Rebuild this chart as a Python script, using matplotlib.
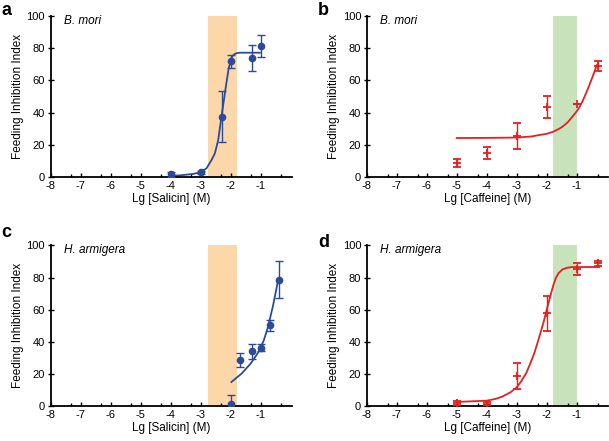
import numpy as np
import matplotlib
matplotlib.use("Agg")
import matplotlib.pyplot as plt

plt.rcParams['font.family'] = ['Liberation Sans', 'DejaVu Sans']
plt.rcParams['axes.unicode_minus'] = False

# --- dati ---
# pannello a: B. mori, salicina
a_x = [-4.0, -3.0, -2.3, -2.0, -1.3, -1.0]
a_y = [1.7, 2.9, 37.5, 72.0, 74.0, 81.3]
a_err = [1.5, 0.8, 16.0, 4.0, 8.0, 6.7]
a_fit_x = [-4.02, -3.69, -3.25, -3.0, -2.8, -2.63, -2.52, -2.41, -2.3, -2.22,
           -2.13, -2.06, -1.97, -1.93, -1.86, -1.78, -1.69, -1.02]
a_fit_y = [0.8, 1.0, 1.9, 2.9, 5.4, 10.6, 14.7, 23.0, 37.5, 47.8,
           59.2, 67.5, 73.7, 75.2, 76.4, 77.0, 77.2, 77.2]

# pannello b: B. mori, caffeina
b_x = [-5.0, -4.0, -3.0, -2.0, -1.0, -0.3]
b_y = [8.9, 15.1, 25.5, 43.5, 45.3, 69.1]
b_err = [2.5, 3.7, 8.0, 6.6, 0.0, 3.0]
b_fit_x = [-5.0, -4.0, -3.0, -2.5, -2.24, -2.0, -1.8, -1.6, -1.47, -1.3, -1.14,
           -1.0, -0.91, -0.8, -0.69, -0.58, -0.47, -0.33]
b_fit_y = [24.2, 24.3, 24.5, 25.2, 26.1, 26.8, 28.0, 29.8, 31.3, 34.0, 37.5,
           40.8, 43.3, 47.3, 52.0, 57.0, 62.3, 69.5]

# pannello c: H. armigera, salicina
c_x = [-2.0, -1.7, -1.3, -1.0, -0.7, -0.4]
c_y = [1.7, 28.6, 34.2, 36.4, 50.3, 78.7]
c_err = [5.5, 4.5, 4.7, 2.2, 3.5, 11.3]
c_fit_x = [-1.97, -1.63, -1.33, -1.05, -0.89, -0.75, -0.58, -0.42]
c_fit_y = [15.1, 20.3, 26.5, 34.2, 41.0, 49.3, 62.7, 77.6]

# pannello d: H. armigera, caffeina
d_x = [-5.0, -4.0, -3.0, -2.0, -1.0, -0.3]
d_y = [2.1, 1.7, 18.7, 57.7, 85.1, 88.8]
d_err = [1.0, 1.0, 8.0, 11.0, 3.7, 1.7]
d_fit_x = [-5.0, -4.5, -4.0, -3.7, -3.46, -3.2, -3.0, -2.84, -2.68, -2.55,
           -2.41, -2.3, -2.19, -2.1, -2.02, -1.93, -1.85, -1.77, -1.69, -1.6,
           -1.47, -1.3, -1.14, -0.25]
d_fit_y = [2.7, 3.1, 3.5, 4.6, 6.2, 8.8, 11.8, 15.8, 20.7, 26.5,
           33.2, 39.8, 46.7, 52.5, 58.5, 64.8, 70.5, 75.8, 79.9, 82.8,
           85.1, 86.1, 86.5, 86.5]

salicin_band = (-2.76, -1.79)
caffeine_band = (-1.79, -1.0)

BLUE = '#2b4a9b'
RED = '#e3211f'
ORANGE = '#fcd7a9'
GREEN = '#c8e2bb'

fig = plt.figure(figsize=(6.09, 4.41), dpi=100)

W, H = 609.0, 441.0
ax_w = 241.5 / W
ax_h = 161.0 / H
positions = {
    'a': [50.5 / W, (H - 177) / H, ax_w, ax_h],
    'b': [366.7 / W, (H - 177) / H, ax_w, ax_h],
    'c': [50.5 / W, (H - 406.3) / H, ax_w, ax_h],
    'd': [366.7 / W, (H - 406.3) / H, ax_w, ax_h],
}

panels = [
    ('a', 'B. mori', 'Lg [Salicin] (M)', a_x, a_y, a_err, a_fit_x, a_fit_y,
     BLUE, 'o', salicin_band, ORANGE),
    ('b', 'B. mori', 'Lg [Caffeine] (M)', b_x, b_y, b_err, b_fit_x, b_fit_y,
     RED, '+', caffeine_band, GREEN),
    ('c', 'H. armigera', 'Lg [Salicin] (M)', c_x, c_y, c_err, c_fit_x, c_fit_y,
     BLUE, 'o', salicin_band, ORANGE),
    ('d', 'H. armigera', 'Lg [Caffeine] (M)', d_x, d_y, d_err, d_fit_x, d_fit_y,
     RED, '+', caffeine_band, GREEN),
]

# posizione delle lettere (pixel)
letter_pos = {'a': (1, 15), 'b': (318, 15), 'c': (1, 237), 'd': (318, 247)}

for key, species, xlabel, x, y, err, fx, fy, col, mk, band, bcol in panels:
    ax = fig.add_axes(positions[key])
    ax.axvspan(band[0], band[1], color=bcol, lw=0, zorder=0)
    ax.plot(fx, fy, color=col, lw=1.3, zorder=2)
    if mk == 'o':
        ax.errorbar(x, y, yerr=err, fmt='o', color=col, ms=4.5, elinewidth=1.0,
                    capsize=2.6, capthick=1.0, zorder=3)
    else:
        ax.errorbar(x, y, yerr=err, fmt='+', color=col, ms=6, mew=1.3,
                    elinewidth=1.0, capsize=2.6, capthick=1.0, zorder=3)

    ax.set_xlim(-8, 0.05)
    ax.set_ylim(0, 100)
    ax.set_xticks(range(-8, 0))
    ax.set_xticks([n - 0.301 for n in range(-7, 1)], minor=True)
    ax.set_yticks(range(0, 101, 20))
    for s in ['top', 'right']:
        ax.spines[s].set_visible(False)
    for s in ['left', 'bottom']:
        ax.spines[s].set_linewidth(1.3)
    ax.tick_params(axis='x', which='major', direction='in', length=3, width=1.0,
                   labelsize=8, pad=3)
    ax.tick_params(axis='x', which='minor', direction='in', length=2, width=1.0)
    ax.tick_params(axis='y', direction='inout', length=4, width=1.0,
                   labelsize=8, pad=2)
    ax.set_xlabel(xlabel, fontsize=8.5, labelpad=1)
    ax.set_ylabel('Feeding Inhibition Index', fontsize=8.5, labelpad=2)
    ax.text(0.055, 0.968, species, transform=ax.transAxes, fontsize=8.5,
            style='italic', va='center', ha='left')

    lx, ly = letter_pos[key]
    fig.text(lx / W, 1 - ly / H, key, fontsize=13, fontweight='bold',
             ha='left', va='baseline')

fig.savefig('out.png', dpi=100)
